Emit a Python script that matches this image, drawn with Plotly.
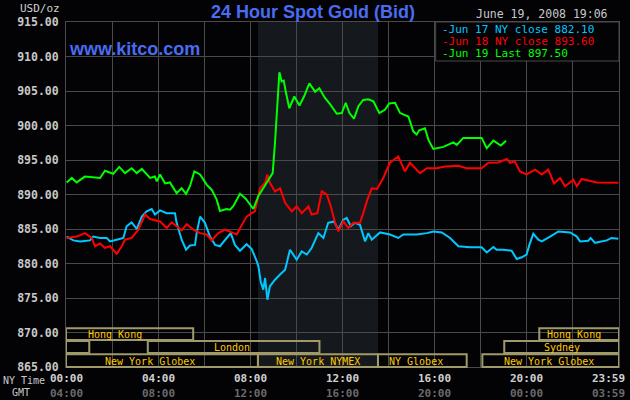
import plotly.graph_objects as go

# ---------------- data (hours of NY day, price USD/oz) ----------------
jun17_t = [0.03, 0.32, 0.61, 1.04, 1.18, 1.48, 1.77, 1.91, 2.20, 2.49, 2.63, 2.85, 3.07, 3.29, 3.50, 3.72,
           3.86, 4.08, 4.37, 4.73, 4.80, 5.02, 5.21, 5.38, 5.60, 5.67, 5.82, 6.03, 6.25, 6.47, 6.68, 6.97,
           7.15, 7.33, 7.55, 7.84, 8.06, 8.28, 8.35, 8.45, 8.56, 8.64, 8.74, 8.85, 9.07, 9.29, 9.51, 9.72,
           10.01, 10.23, 10.45, 10.66, 10.95, 11.17, 11.38, 11.63, 11.82, 12.04, 12.18, 12.36, 12.54, 12.76,
           12.98, 13.12, 13.27, 13.63, 14.06, 14.42, 14.64, 15.22, 15.66, 15.94, 16.31, 16.67, 17.03, 17.53,
           18.04, 18.26, 18.55, 18.69, 18.98, 19.34, 19.56, 19.78, 19.99, 20.11, 20.28, 20.50, 20.65, 21.01,
           21.37, 21.88, 22.17, 22.31, 22.67, 22.77, 22.96, 23.47, 23.68, 23.97]
jun17_v = [883.9, 883.35, 883.2, 883.35, 883.9, 883.7, 883.7, 883.2, 883.45, 883.7, 885.4, 885.95, 885.0, 886.8, 887.55, 887.9,
           887.1, 887.7, 887.3, 887.3, 885.9, 883.45, 882.0, 882.6, 882.7, 884.4, 886.8, 885.9, 883.9, 882.7, 882.5, 883.7,
           884.4, 882.7, 881.85, 882.8, 882.1, 880.3, 879.6, 877.4, 876.2, 877.9, 874.75, 876.7, 877.65, 878.4, 879.1, 882.0,
           880.55, 881.75, 881.3, 882.25, 884.4, 883.7, 885.9, 886.1, 884.9, 886.35, 886.6, 885.4, 885.9, 885.6,
           883.2, 884.4, 883.45, 884.5, 884.2, 883.7, 884.2, 884.2, 884.4, 884.65, 884.5, 883.7, 882.5, 882.35,
           882.35, 881.6, 882.4, 882.0, 882.0, 881.85, 880.65, 880.9, 881.3, 882.7, 884.3, 883.45, 883.2, 883.9,
           884.65, 884.5, 883.9, 883.2, 883.3, 883.7, 883.0, 883.35, 883.7, 883.6]

jun18_t = [0.03, 0.46, 0.82, 1.12, 1.26, 1.48, 1.69, 1.91, 2.20, 2.42, 2.56, 2.85, 3.14, 3.43, 3.65, 4.08,
           4.37, 4.59, 4.80, 5.02, 5.24, 5.53, 5.82, 6.11, 6.32, 6.61, 6.90, 7.19, 7.41, 7.63, 7.84, 8.06,
           8.20, 8.42, 8.64, 8.74, 8.85, 9.07, 9.29, 9.51, 9.80, 10.01, 10.23, 10.52, 10.66, 10.91, 11.10, 11.32,
           11.49, 11.68, 11.82, 12.04, 12.25, 12.47, 12.76, 12.90, 13.08, 13.27, 13.50, 13.77, 14.06, 14.42,
           14.71, 14.93, 15.14, 15.36, 15.66, 16.09, 16.45, 17.03, 17.39, 18.04, 18.33, 18.76, 19.13, 19.27,
           19.48, 19.70, 19.99, 20.36, 20.65, 20.93, 21.18, 21.44, 21.66, 22.02, 22.17, 22.38, 23.03, 23.61, 23.97]
jun18_v = [883.7, 883.9, 884.4, 883.7, 882.5, 882.9, 882.25, 882.5, 881.4, 882.5, 883.45, 883.7, 884.9, 887.1, 886.45, 886.1,
           885.15, 885.95, 885.4, 884.8, 885.7, 884.9, 884.4, 884.2, 883.35, 884.4, 884.9, 884.5, 884.2, 885.6, 886.8, 887.3,
           887.55, 890.9, 891.7, 892.9, 891.7, 890.45, 890.9, 888.8, 887.55, 888.3, 887.3, 888.3, 887.1, 887.3, 890.45, 890.0,
           888.3, 885.9, 884.65, 886.1, 885.15, 885.9, 885.9, 887.3, 889.25, 890.9, 890.8, 892.4, 894.6, 895.5,
           893.35, 894.6, 893.9, 893.1, 893.8, 893.8, 894.05, 894.15, 893.8, 893.8, 894.6, 894.65, 895.15, 894.6,
           894.8, 893.35, 892.9, 893.6, 892.9, 893.6, 891.6, 892.4, 891.2, 892.15, 891.2, 892.25, 891.75, 891.75, 891.7]

jun19_t = [0.03, 0.25, 0.46, 0.82, 1.48, 1.69, 2.05, 2.31, 2.56, 2.85, 3.07, 3.29, 3.65, 3.86, 3.94, 4.08,
           4.30, 4.51, 4.80, 5.02, 5.21, 5.38, 5.57, 5.82, 6.11, 6.32, 6.54, 6.68, 6.97, 7.12, 7.26, 7.55,
           7.80, 8.13, 8.35, 8.71, 8.97, 9.07, 9.14, 9.21, 9.26, 9.36, 9.45, 9.55, 9.69, 9.91, 10.13, 10.33,
           10.56, 10.81, 10.99, 11.24, 11.46, 11.75, 11.97, 12.14, 12.30, 12.50, 12.69, 12.90, 13.12, 13.34,
           13.60, 13.85, 14.03, 14.28, 14.50, 14.86, 15.07, 15.22, 15.33, 15.58, 15.73, 15.94, 16.38, 16.81,
           16.96, 17.24, 18.04, 18.26, 18.55, 18.87, 19.10]
jun19_v = [891.75, 892.4, 891.75, 892.6, 892.4, 893.45, 893.0, 894.0, 893.1, 893.8, 893.1, 893.7, 892.4, 892.6, 891.9, 892.9,
           891.6, 891.75, 890.2, 890.9, 890.1, 891.2, 893.35, 892.9, 891.4, 890.7, 889.25, 887.6, 887.9, 887.8, 888.3, 890.1,
           889.4, 887.9, 889.8, 891.8, 893.1, 897.5, 901.8, 905.7, 907.7, 906.4, 906.5, 904.7, 902.5, 904.2, 902.9, 904.2,
           906.1, 904.9, 905.4, 904.0, 903.1, 901.7, 901.8, 903.3, 901.8, 901.0, 902.8, 903.7, 903.8, 903.5,
           901.8, 902.3, 903.2, 903.3, 901.8, 901.3, 899.15, 898.7, 899.3, 899.6, 897.9, 896.6, 896.9, 897.55,
           897.2, 898.2, 898.2, 896.7, 897.8, 897.1, 897.8]

series_names = ["Jun 17 NY close", "Jun 18 NY close", "Jun 19 Last"]
series_close = ["882.10", "893.60", "897.50"]
series_colors = ["#00c8ff", "#ff0000", "#00ff00"]

ny_time_labels = ["00:00", "04:00", "08:00", "12:00", "16:00", "20:00", "23:59"]
gmt_labels = ["04:00", "08:00", "12:00", "16:00", "20:00", "00:00", "03:59"]
label_hours = [0, 4, 8, 12, 16, 20, 24]

nymex_open, nymex_close = 8.33, 13.54

# row, start hour, end hour, label, label centre hour
sessions = [
    (0, 0.0, 5.52, "Hong Kong", 2.13),
    (0, 20.54, 24.0, "Hong Kong", 22.05),
    (1, 0.0, 1.01, "", None),
    (1, 3.55, 11.0, "London", 7.2),
    (1, 19.02, 24.0, "Sydney", 21.53),
    (2, 0.0, 8.33, "New York Globex", 3.65),
    (2, 8.33, 13.54, "New York NYMEX", 10.94),
    (2, 13.54, 17.39, "NY Globex", 15.19),
    (2, 18.07, 24.0, "New York Globex", 20.96),
]

# ---------------- layout geometry ----------------
W, H = 630, 400
L, R, T, B = 66, 11, 22, 33
PW, PH = W - L - R, H - T - B
BG = "#030306"
GRID = "#4a4a4a"
MONO = "DejaVu Sans Mono"
BLUE = "#4a6cf0"


def px(x):
    return (x - L) / PW


def py(y):
    return (H - B - y) / PH


fig = go.Figure()
for t, v, c, n in zip([jun17_t, jun18_t, jun19_t], [jun17_v, jun18_v, jun19_v], series_colors, series_names):
    fig.add_trace(go.Scatter(x=t, y=v, mode="lines", name=n, line=dict(color=c, width=2), showlegend=False,
                             hoverinfo="skip"))

shapes = []
# NYMEX shaded region
shapes.append(dict(type="rect", xref="x", yref="paper", x0=nymex_open, x1=nymex_close, y0=0, y1=1,
                   fillcolor="#15181d", line=dict(width=0), layer="below"))
# legend box
shapes.append(dict(type="rect", xref="paper", yref="paper", x0=px(435.7), x1=1, y0=py(61), y1=1,
                   fillcolor=BG, line=dict(color=GRID, width=1), layer="above"))
# session boxes
row_tops = [328.3, 341.0, 354.3]
row_bots = [340.0, 353.0, 367.0]
ann = []
for row, s, e, lab, c in sessions:
    shapes.append(dict(type="rect", xref="x", yref="paper", x0=s, x1=e, y0=py(row_bots[row]), y1=py(row_tops[row]),
                       line=dict(color="#a09a6a", width=2), fillcolor="rgba(0,0,0,0)", layer="above"))
    if lab:
        ann.append(dict(x=c, y=py((row_tops[row] + row_bots[row]) / 2 + 0.5), xref="x", yref="paper", text=lab,
                        showarrow=False, xanchor="center", yanchor="middle", borderpad=0,
                        font=dict(family=MONO, size=10, color="#ffc800")))

# titles / texts
ann.append(dict(x=px(313), y=py(12), xref="paper", yref="paper", text="<b>24 Hour Spot Gold (Bid)</b>", showarrow=False,
                xanchor="center", yanchor="middle", font=dict(family="Liberation Sans", size=18, color=BLUE)))
ann.append(dict(x=px(67), y=py(49), xref="paper", yref="paper", text="<b>www.kitco.com</b>", showarrow=False,
                xanchor="left", yanchor="middle", font=dict(family="Liberation Sans", size=18, color=BLUE)))
ann.append(dict(x=px(62), y=py(8), xref="paper", yref="paper", text="USD/oz", showarrow=False,
                xanchor="right", yanchor="middle", font=dict(family=MONO, size=11, color="#d0d0d0")))
ann.append(dict(x=px(609), y=py(14.5), xref="paper", yref="paper", text="June 19, 2008 19:06", showarrow=False,
                xanchor="right", yanchor="middle", borderpad=0, font=dict(family=MONO, size=11.5, color="#c8c8c8")))
for i, (n, v, c) in enumerate(zip(series_names, series_close, series_colors)):
    ann.append(dict(x=px(441), y=py(29.5 + 12.2 * i), xref="paper", yref="paper", text="-" + n + " " + v,
                    showarrow=False, xanchor="left", yanchor="middle", borderpad=0,
                    font=dict(family=MONO, size=11, color=c)))

# x labels
for h, a, g in zip(label_hours, ny_time_labels, gmt_labels):
    if h == 24:
        xa, xx = "right", px(626)
    else:
        xa, xx = "center", px(L + h / 24 * PW)
    ann.append(dict(x=xx, y=py(378), xref="paper", yref="paper", text="<b>" + a + "</b>", showarrow=False,
                    xanchor=xa, yanchor="middle", borderpad=0, font=dict(family=MONO, size=11, color="#d0d0d0")))
    ann.append(dict(x=xx, y=py(393.5), xref="paper", yref="paper", text="<b>" + g + "</b>", showarrow=False,
                    xanchor=xa, yanchor="middle", borderpad=0, font=dict(family=MONO, size=11, color="#6a6a6a")))
ann.append(dict(x=px(46), y=py(381), xref="paper", yref="paper", text="NY Time", showarrow=False,
                xanchor="right", yanchor="middle", borderpad=0, font=dict(family=MONO, size=10, color="#c8c8c8")))
ann.append(dict(x=px(20.5), y=py(392), xref="paper", yref="paper", text="GMT", showarrow=False,
                xanchor="center", yanchor="middle", borderpad=0, font=dict(family=MONO, size=10, color="#c8c8c8")))

fig.update_layout(
    width=W, height=H, margin=dict(l=L, r=R, t=T, b=B, autoexpand=False),
    paper_bgcolor=BG, plot_bgcolor=BG, hovermode=False,
    shapes=shapes, annotations=ann, showlegend=False,
    xaxis=dict(range=[0, 24], tick0=0, dtick=2, showgrid=True, gridcolor=GRID, gridwidth=1, automargin=False,
               showticklabels=False, zeroline=False, showline=True, linecolor=GRID, mirror=True, ticks=""),
    yaxis=dict(range=[865, 915], tick0=865, dtick=5, showgrid=True, gridcolor=GRID, gridwidth=1, automargin=False,
               tickformat=".2f", zeroline=False, showline=True, linecolor=GRID, mirror=True, ticks="",
               ticklabelstandoff=4,
               tickfont=dict(family=MONO, size=11.5, color="#c8c8c8", weight="bold")),
)

fig.write_html("out.html", config={"displayModeBar": False, "staticPlot": True},
               post_script="document.body.style.margin='0';document.body.style.background='" + BG + "';")
